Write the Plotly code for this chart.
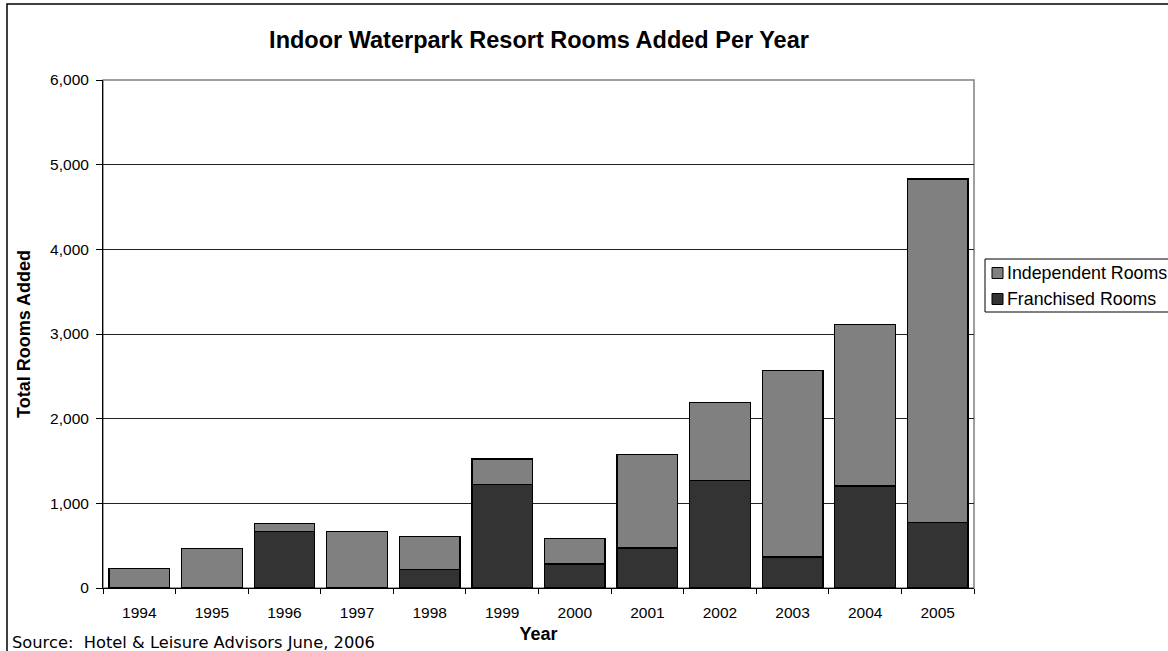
import plotly.graph_objects as go

years = ["1994", "1995", "1996", "1997", "1998", "1999", "2000", "2001", "2002", "2003", "2004", "2005"]
franchised = [0, 0, 665, 0, 220, 1225, 285, 473, 1273, 366, 1206, 777]
independent = [230, 470, 95, 665, 390, 300, 300, 1104, 914, 2207, 1907, 4054]
y_ticks = [0, 1000, 2000, 3000, 4000, 5000, 6000]
legend_names = ["Independent Rooms", "Franchised Rooms"]

FONT = "Liberation Sans"
SRC_FONT = "DejaVu Sans"
C_IND = "#808080"
C_FR = "#333333"

W, H = 1168, 651
L, R, T, B = 103, 974, 80, 588
ml, mr, mt, mb = L, W - R, T, H - B
pw, ph = R - L, B - T


def px_x(x):
    return (x - L) / pw


def px_y(y):
    return (B - y) / ph


fig = go.Figure()
fig.add_trace(go.Bar(
    x=years, y=franchised, name="Franchised Rooms",
    marker=dict(color=C_FR, line=dict(color="#000000", width=1.3)),
))
fig.add_trace(go.Bar(
    x=years, y=independent, name="Independent Rooms",
    marker=dict(color=C_IND, line=dict(color="#000000", width=1.3)),
))

fig.update_layout(
    width=W, height=H,
    margin=dict(l=ml, r=mr, t=mt, b=mb, pad=0, autoexpand=False),
    barmode="stack",
    bargap=0.165,
    paper_bgcolor="white",
    plot_bgcolor="white",
    font=dict(family=FONT, size=15, color="black"),
    showlegend=False,
    title=dict(
        text="<b>Indoor Waterpark Resort Rooms Added Per Year</b>",
        font=dict(family=FONT, size=23.5, color="black"),
        x=px_x(539), xanchor="center", xref="paper",
        y=1 - 40 / H, yanchor="middle", yref="container",
    ),
    xaxis=dict(
        type="category",
        tickson="boundaries",
        ticks="outside", ticklen=5, tickcolor="black",
        showline=True, linecolor="black", linewidth=1,
        showgrid=False,
        tickfont=dict(family=FONT, size=15.5, color="black"),
        ticklabelstandoff=10,
        title=dict(text="<b>Year</b>", font=dict(family=FONT, size=18, color="black"), standoff=7),
    ),
    yaxis=dict(
        range=[0, 6000],
        tickvals=y_ticks,
        tickformat=",d",
        ticks="outside", ticklen=6, tickcolor="black",
        showline=True, linecolor="black", linewidth=1,
        showgrid=True, gridcolor="#222222", gridwidth=1,
        zeroline=False,
        tickfont=dict(family=FONT, size=15.5, color="black"),
        ticklabelstandoff=4,
        title=dict(text="<b>Total Rooms Added</b>", font=dict(family=FONT, size=18, color="black"), standoff=14),
    ),
)

# plot-area border (gray)
fig.add_shape(type="rect", xref="paper", yref="paper", x0=0, x1=1, y0=0, y1=1,
              line=dict(color="#808080", width=1.5), layer="below")

# legend (frame, swatches, labels)
fig.add_shape(type="rect", xref="paper", yref="paper",
              x0=px_x(985), x1=px_x(1200), y0=px_y(312), y1=px_y(259),
              line=dict(color="black", width=1), fillcolor="white", layer="below")
for name, color, yc in zip(legend_names, [C_IND, C_FR], [273, 299]):
    fig.add_shape(type="rect", xref="paper", yref="paper",
                  x0=px_x(992), x1=px_x(1003), y0=px_y(yc + 5.5), y1=px_y(yc - 5.5),
                  line=dict(color="black", width=1), fillcolor=color)
    fig.add_annotation(text=name, xref="paper", yref="paper",
                       x=px_x(1005), xanchor="left", y=px_y(yc), yanchor="middle",
                       showarrow=False, font=dict(family=FONT, size=17.8, color="black"))

# outer chart border
fig.add_shape(type="rect", xref="paper", yref="paper",
              x0=px_x(7), x1=px_x(1200), y0=px_y(700), y1=px_y(4),
              line=dict(color="black", width=1.5))

fig.add_annotation(
    text="Source:  Hotel &amp; Leisure Advisors June, 2006",
    xref="paper", yref="paper",
    x=px_x(10), xanchor="left",
    y=px_y(642), yanchor="middle",
    showarrow=False,
    font=dict(family=SRC_FONT, size=16.3, color="black"),
)

fig.write_html(
    "out.html",
    config={"displayModeBar": False},
    post_script="document.body.style.margin='0';document.body.style.overflow='hidden';",
)
